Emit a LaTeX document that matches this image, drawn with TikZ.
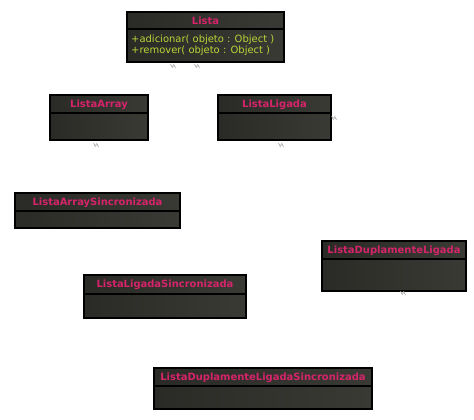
\documentclass[tikz,border=0pt]{standalone}
\usepackage{fontspec}
\setmainfont{DejaVu Sans}
\definecolor{titlepink}{HTML}{D6246A}
\definecolor{opgreen}{HTML}{B8D637}
\definecolor{boxdark}{HTML}{2A2A26}
\definecolor{boxlight}{HTML}{3A3A35}
\tikzset{
  boxfill/.style={left color=boxdark,right color=boxlight},
  boxline/.style={draw=black,line width=1.2bp},
  titletext/.style={font=\bfseries\fontsize{10}{12}\selectfont,text=titlepink,inner sep=0pt},
  optext/.style={font=\fontsize{10}{11.5}\selectfont,text=opgreen,inner sep=0pt,anchor=west,align=left},
  speck/.style={draw=gray!70,line width=0.6bp}
}
\newcommand{\umlcls}[7]{%
  \fill[boxfill] (#2,#3) rectangle (#4,#6);
  \draw[boxline] (#2,#3) rectangle (#4,#6);
  \draw[boxline] (#2,#5) -- (#4,#5);
  \node[titletext] (#1) at ({(#2+#4)/2},{(#3+#5)/2+0.5}) {#7};
}
\newcommand{\specks}[2]{%
  \draw[speck] (#1-2.5,#2-2) -- (#1-0.5,#2+2) (#1+0.5,#2-2) -- (#1+2.5,#2+2) (#1-2,#2) -- (#1+2,#2);
}
\begin{document}
\begin{tikzpicture}[x=1bp,y=-1bp]
\useasboundingbox (0,0) rectangle (474,419);
\umlcls{lista}{127}{12}{284}{29}{62}{Lista}
\node[optext] (ops) at (131,45.5) {+adicionar( objeto : Object )\\+remover( objeto : Object )};
\umlcls{larray}{50}{95}{148}{113}{140}{ListaArray}
\umlcls{lligada}{218}{95}{331}{113}{140}{ListaLigada}
\umlcls{larraysinc}{15}{193}{180}{211}{228}{ListaArraySincronizada}
\umlcls{ldupla}{322}{241}{466}{259}{291}{ListaDuplamenteLigada}
\umlcls{lligsinc}{84}{275}{246}{294}{318}{ListaLigadaSincronizada}
\umlcls{lduplasinc}{154}{368}{372}{386}{409}{ListaDuplamenteLigadaSincronizada}
\specks{173}{66}
\specks{197}{66}
\specks{96}{145}
\specks{281}{145}
\specks{334}{118}
\specks{403}{293}
\end{tikzpicture}
\end{document}
